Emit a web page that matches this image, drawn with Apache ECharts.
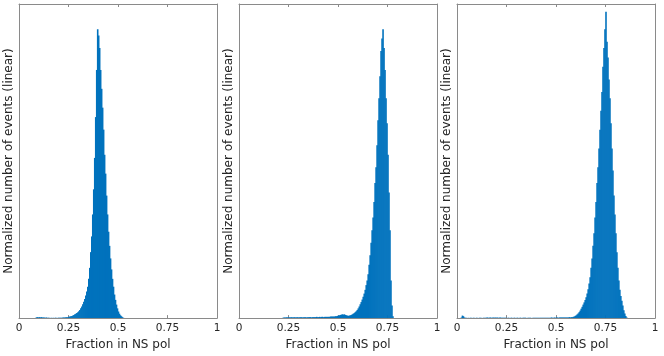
<!DOCTYPE html>
<html>
<head>
<meta charset="utf-8">
<script src="https://cdn.jsdelivr.net/npm/echarts@6/dist/echarts.min.js"></script>
<style>
html,body{margin:0;padding:0;background:#fff;}
#chart{width:664px;height:356px;}
</style>
</head>
<body>
<div id="chart"></div>
<script>
// Bin width of the histograms (fraction units)
const binWidth = 0.005;
// X tick labels
const xTicks = [0, 0.25, 0.5, 0.75, 1];
const xLabel = 'Fraction in NS pol';
const yLabel = 'Normalized number of events (linear)';

// Panel 1: bins starting at 0.085
const p1Start = 0.085;
const p1Counts = [
  0.002,0.003,0.002,0.003,0.002,0.003,0.002,0.002,0.002,0.001,
  0.002,0.001,0.001,0.001,0,0.001,0,0.001,0,0.001,
  0.001,0,0.001,0.001,0.001,0.001,0.001,0.002,0.002,0.002,
  0.003,0.003,0.003,
  0.004,0.005,0.006,0.007,0.008,0.010,0.012,0.014,0.016,0.019,
  0.022,0.026,0.031,0.037,0.044,0.052,0.061,0.072,0.085,0.100,
  0.125,0.16,0.21,0.26,0.33,0.41,0.51,0.64,0.79,0.92,
  0.90,0.86,0.79,0.73,0.67,0.60,0.52,0.46,0.39,0.33,
  0.275,0.23,0.19,0.155,0.125,0.10,0.075,0.058,0.043,0.031,
  0.021,0.014,0.009,0.006,0.003,0.001
];

// Panel 2: bins starting at 0.22
const p2Start = 0.22;
const p2Counts = [
  0.001,0.002,0.002,0.002,0.003,0.002,0.003,0.002,0.003,0.003,
  0.002,0.003,0.003,0.002,0.003,0.003,0.002,0.003,0.003,0.003,
  0.002,0.003,0.003,0.003,0.002,0.003,0.003,0.003,0.003,0.002,
  0.003,0.003,0.003,0.003,0.004,0.003,0.003,0.004,0.003,0.004,
  0.004,0.003,0.004,0.004,0.004,0.004,0.004,0.004,0.005,0.005,
  0.005,0.005,0.005,0.006,
  0.006,0.007,0.008,0.009,0.010,0.011,0.012,0.011,0.012,0.010,
  0.009,0.008,0.007,0.008,0.009,0.010,0.012,0.014,0.016,0.019,
  0.022,0.026,0.031,0.037,0.044,0.051,0.059,0.068,0.078,0.090,
  0.105,0.12,0.14,0.17,0.20,0.24,0.28,0.32,0.37,0.43,
  0.48,0.55,0.63,0.70,0.77,0.85,0.89,0.92,0.86,0.79,
  0.70,0.62,0.52,0.40,0.28,0.12,0.04,0.006
];

// Panel 3: bins starting at 0.02
const p3Start = 0.02;
const p3Counts = [
  0.002,0.008,0.006,0.002,
  0.001,0.001,0,0.001,0,0.001,0.001,0,0.001,0.001,
  0,0.001,0.001,0,0.001,0.001,0.001,0,0.001,0.001,
  0.001,0.001,0.002,0.001,0.001,0.002,0.001,0.001,0.002,0.001,
  0.002,0.001,0.002,0.001,0.001,0.002,0.001,0.001,0.001,0.001,
  0.001,0.001,0,0.001,0.001,0,0.001,0.001,0,0.001,
  0.001,0,0.001,0.001,0,0.001,0.001,0,0.001,0.001,
  0.001,0.001,0,0.001,0.001,0.001,0.001,0,0.001,0.001,
  0.001,0.001,0.001,0.001,0.001,0.001,0.001,0.001,0.001,0.001,
  0.001,0.001,0.001,0.001,0.001,0.001,0.001,0.002,0.001,0.001,
  0.002,0.001,0.002,0.002,0.001,0.002,0.002,0.002,0.002,0.002,
  0.002,0.002,0.002,0.002,0.002,0.003,0.002,0.003,
  0.003,0.004,0.005,0.007,0.009,0.012,0.015,0.019,0.024,0.030,
  0.036,0.043,0.050,0.058,0.066,0.078,0.092,0.11,0.13,0.16,
  0.19,0.23,0.27,0.32,0.37,0.43,0.48,0.54,0.60,0.66,
  0.72,0.80,0.86,0.92,0.975,0.88,0.83,0.76,0.70,0.62,
  0.54,0.47,0.39,0.33,0.27,0.21,0.16,0.12,0.09,0.07,
  0.055,0.04,0.025,0.015,0.007,0.002
];

const panels = [
  {start: p1Start, counts: p1Counts},
  {start: p2Start, counts: p2Counts},
  {start: p3Start, counts: p3Counts}
];

function toBins(start, counts) {
  return counts.map((c, i) => [Math.round((start + i * binWidth) * 1000) / 1000, c]);
}

const gridLefts = [19, 239, 457];
const gridWidth = 198;
const FONT = 'DejaVu Sans';
const axisColor = '#8a8a8a';
const textColor = '#262626';

const grids = [], xAxes = [], yAxes = [], series = [];
panels.forEach((p, k) => {
  grids.push({left: gridLefts[k], width: gridWidth, top: 4, height: 316});
  xAxes.push({
    type: 'value', gridIndex: k, position: 'bottom', min: 0, max: 1, interval: 0.25,
    name: xLabel, nameLocation: 'middle', nameGap: 18,
    nameTextStyle: {color: textColor, fontFamily: FONT, fontSize: 12},
    axisLine: {show: true, onZero: false, lineStyle: {color: axisColor, width: 1}},
    axisTick: {show: true, inside: true, length: 3, lineStyle: {color: axisColor}},
    axisLabel: {show: true, margin: 5, color: textColor, fontFamily: FONT, fontSize: 10.5,
      formatter: v => { const t = xTicks.find(q => Math.abs(q - v) < 1e-9); return t === undefined ? '' : String(t); }},
    splitLine: {show: false}
  });
  xAxes.push({
    type: 'value', gridIndex: k, position: 'top', min: 0, max: 1, interval: 0.25,
    axisLine: {show: true, onZero: false, lineStyle: {color: axisColor, width: 1}},
    axisTick: {show: true, inside: true, length: 3, lineStyle: {color: axisColor}},
    axisLabel: {show: false}, splitLine: {show: false}
  });
  yAxes.push({
    type: 'value', gridIndex: k, position: 'left', min: 0, max: 1,
    name: yLabel, nameLocation: 'middle', nameGap: 4,
    nameTextStyle: {color: textColor, fontFamily: FONT, fontSize: 12},
    axisLine: {show: true, onZero: false, lineStyle: {color: axisColor, width: 1}},
    axisTick: {show: false}, axisLabel: {show: false}, splitLine: {show: false}
  });
  yAxes.push({
    type: 'value', gridIndex: k, position: 'right', min: 0, max: 1,
    axisLine: {show: true, onZero: false, lineStyle: {color: axisColor, width: 1}},
    axisTick: {show: false}, axisLabel: {show: false}, splitLine: {show: false}
  });
  series.push({
    type: 'custom', xAxisIndex: 2 * k, yAxisIndex: 2 * k,
    data: toBins(p.start, p.counts),
    encode: {x: 0, y: 1},
    clip: true, silent: true,
    renderItem: function (params, api) {
      const x = api.value(0), y = api.value(1);
      const a = api.coord([x, y]);
      const b = api.coord([x + binWidth, 0]);
      return {
        type: 'rect',
        shape: {x: a[0] - 0.3, y: a[1], width: b[0] - a[0] + 0.6, height: b[1] - a[1]},
        style: {fill: '#0072BD'}
      };
    }
  });
});

const chart = echarts.init(document.getElementById('chart'), null, {renderer: 'canvas'});
chart.setOption({
  animation: false,
  backgroundColor: '#ffffff',
  grid: grids, xAxis: xAxes, yAxis: yAxes, series: series
});
</script>
</body>
</html>
